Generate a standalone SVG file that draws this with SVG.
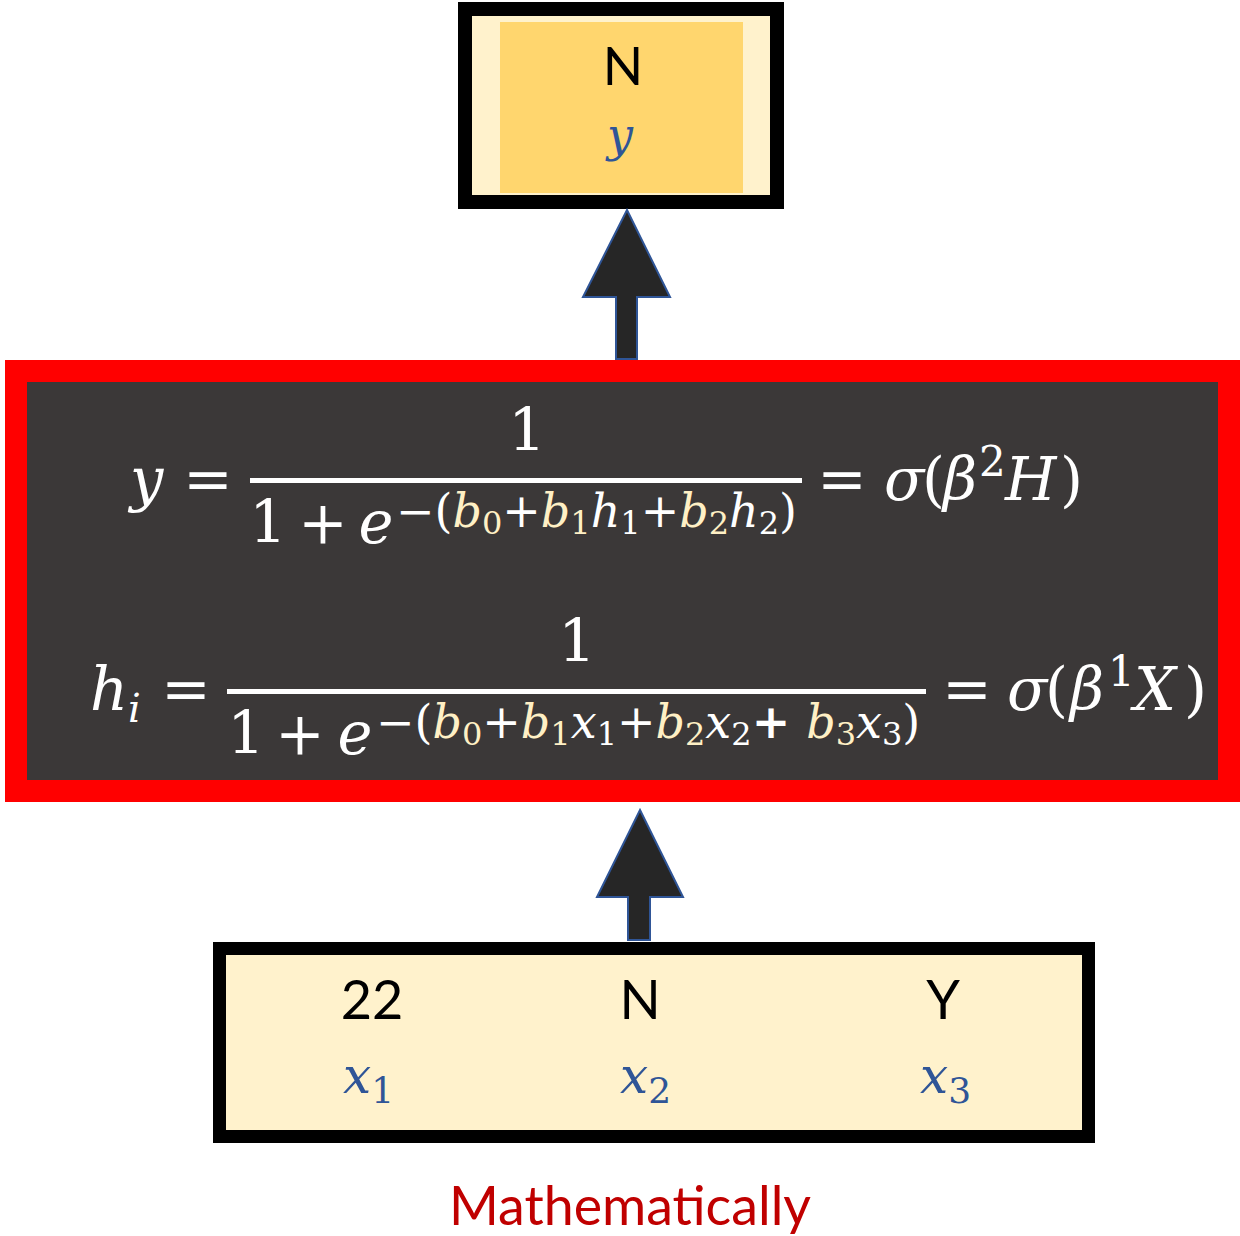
<svg xmlns="http://www.w3.org/2000/svg" width="1240" height="1236" viewBox="0 0 1240 1236">
<style>
.lbl{font-family:Lato,"Noto Sans","DejaVu Sans",sans-serif;fill:#000;}
.var{font-family:"DejaVu Serif",serif;font-style:italic;fill:#2F5597;}
.m{font-family:"DejaVu Serif",serif;fill:#FFFFFF;font-size:59px;}
.it{font-style:italic;}
.ex{font-size:46px;}
.sb{font-size:32px;}
.sp{font-size:42px;}
.bc{fill:#FFF0C5;}
.arrow{fill:#262626;stroke:#2F5597;stroke-width:2;stroke-linejoin:miter;}
</style>
<rect width="1240" height="1236" fill="#FFFFFF"/>

<g id="node-output">
  <rect x="465" y="9" width="312" height="193" fill="#FFF2CC" stroke="#000" stroke-width="14"/>
  <rect x="500" y="22" width="243" height="171" fill="#FFD66E"/>
  <text class="lbl" x="623" y="85" font-size="53" text-anchor="middle">N</text>
  <text class="var" x="620" y="151" font-size="46" text-anchor="middle">y</text>
</g>

<g id="node-formula">
  <rect x="16" y="371" width="1213" height="420" fill="#3B3838" stroke="#FF0000" stroke-width="22"/>
  <!-- formula 1 -->
  <text class="m it" x="130" y="500">y</text>
  <text class="m" x="208" y="500" text-anchor="middle">=</text>
  <text class="m" x="527" y="451" text-anchor="middle">1</text>
  <rect x="250" y="478" width="552" height="5" fill="#FFFFFF"/>
  <text class="m" x="268" y="543" text-anchor="middle">1</text>
  <text class="m" x="323" y="543" text-anchor="middle">+</text>
  <text class="m it" x="376" y="543" text-anchor="middle">e</text>
  <text class="m ex" x="396" y="527">−(<tspan class="it bc">b</tspan><tspan class="sb bc" dy="7">0</tspan><tspan dy="-7">+</tspan><tspan class="it bc">b</tspan><tspan class="sb bc" dy="7">1</tspan><tspan class="it" dy="-7">h</tspan><tspan class="sb" dy="7">1</tspan><tspan dy="-7">+</tspan><tspan class="it bc">b</tspan><tspan class="sb bc" dy="7">2</tspan><tspan class="it" dy="-7">h</tspan><tspan class="sb" dy="7">2</tspan><tspan dy="-7">)</tspan></text>
  <text class="m" x="842" y="500" text-anchor="middle">=</text>
  <text class="m" x="884" y="500"><tspan class="it">σ</tspan><tspan x="922">(</tspan><tspan class="it" x="943">β</tspan><tspan class="sp" x="979" y="476">2</tspan><tspan class="it" x="1005" y="500">H</tspan><tspan x="1060">)</tspan></text>
  <!-- formula 2 -->
  <text class="m" x="90" y="710"><tspan class="it">h</tspan><tspan class="it" font-size="40" dy="12">i</tspan></text>
  <text class="m" x="186" y="710" text-anchor="middle">=</text>
  <text class="m" x="577" y="662" text-anchor="middle">1</text>
  <rect x="227" y="689" width="699" height="5" fill="#FFFFFF"/>
  <text class="m" x="246" y="754" text-anchor="middle">1</text>
  <text class="m" x="300" y="754" text-anchor="middle">+</text>
  <text class="m it" x="355" y="754" text-anchor="middle">e</text>
  <text class="m ex" x="376" y="738">−(<tspan class="it bc">b</tspan><tspan class="sb bc" dy="7">0</tspan><tspan dy="-7">+</tspan><tspan class="it bc">b</tspan><tspan class="sb bc" dy="7">1</tspan><tspan class="it" dy="-7">x</tspan><tspan class="sb" dy="7">1</tspan><tspan dy="-7">+</tspan><tspan class="it bc">b</tspan><tspan class="sb bc" dy="7">2</tspan><tspan class="it" dy="-7">x</tspan><tspan class="sb" dy="7">2</tspan><tspan dy="-7" font-weight="bold">+ </tspan><tspan class="it bc">b</tspan><tspan class="sb bc" dy="7">3</tspan><tspan class="it" dy="-7">x</tspan><tspan class="sb" dy="7">3</tspan><tspan dy="-7">)</tspan></text>
  <text class="m" x="967" y="710" text-anchor="middle">=</text>
  <text class="m" x="1007" y="710"><tspan class="it">σ</tspan><tspan x="1045">(</tspan><tspan class="it" x="1070">β</tspan><tspan class="sp" x="1108" y="686">1</tspan><tspan class="it" x="1134" y="710">X</tspan><tspan x="1184">)</tspan></text>
</g>

<g id="node-input">
  <rect x="219.5" y="948.5" width="869" height="188" fill="#FFF2CC" stroke="#000" stroke-width="13"/>
  <text class="lbl" x="372" y="1019" font-size="54" text-anchor="middle">22</text>
  <text class="lbl" x="640" y="1019" font-size="54" text-anchor="middle">N</text>
  <text class="lbl" x="943" y="1019" font-size="54" text-anchor="middle">Y</text>
  <text class="var" x="343" y="1093" font-size="50">x<tspan font-style="normal" font-size="36" dy="10">1</tspan></text>
  <text class="var" x="620" y="1093" font-size="50">x<tspan font-style="normal" font-size="36" dy="10">2</tspan></text>
  <text class="var" x="920" y="1093" font-size="50">x<tspan font-style="normal" font-size="36" dy="10">3</tspan></text>
</g>

<g id="connectors">
  <polygon class="arrow" points="627,210 670,297 637,297 637,359 616,359 616,297 583,297"/>
  <polygon class="arrow" points="640,810 683,897 650,897 650,940 628,940 628,897 597,897"/>
</g>

<g id="caption">
  <text x="630" y="1225" font-family="Lato,'Noto Sans',sans-serif" font-size="54" fill="#C00000" text-anchor="middle" textLength="362" lengthAdjust="spacingAndGlyphs">Mathematically</text>
</g>
</svg>
